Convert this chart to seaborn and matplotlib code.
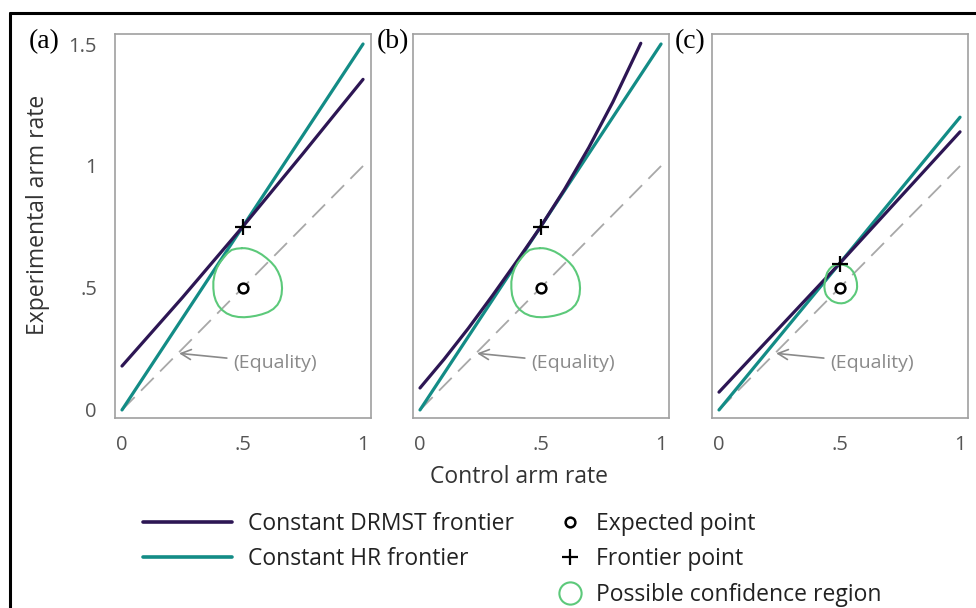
import matplotlib
matplotlib.use("Agg")
import matplotlib.pyplot as plt
import seaborn as sns
import pandas as pd
from matplotlib.lines import Line2D

# ---------------- data ----------------
panel_labels = ["(a)", "(b)", "(c)"]

drmst_x_a = [0.0, 0.25, 0.5, 0.75, 1.0]
drmst_y_a = [0.18, 0.46, 0.75, 1.05, 1.355]
drmst_x_b = [0.0, 0.1, 0.2, 0.3, 0.4, 0.5, 0.6, 0.7, 0.8, 0.916]
drmst_y_b = [0.09, 0.208, 0.334, 0.468, 0.607, 0.75, 0.905, 1.075, 1.262, 1.503]
drmst_x_c = [0.0, 0.5, 1.0]
drmst_y_c = [0.073, 0.6, 1.14]

hr_x = [0.0, 1.0]
hr_y_a = [0.0, 1.5]
hr_y_b = [0.0, 1.5]
hr_y_c = [0.0, 1.2]

eq_x = [0.0, 1.0]
eq_y = [0.0, 1.0]

expected_x = [0.5]
expected_y = [0.5]
frontier_x = [0.5, 0.5, 0.5]
frontier_y = [0.75, 0.75, 0.6]

cr_x_ab = [0.497, 0.475, 0.455, 0.437, 0.420, 0.405, 0.393, 0.384, 0.379, 0.379, 0.382,
           0.389, 0.400, 0.415, 0.434, 0.457, 0.483, 0.507, 0.531, 0.556,
           0.580, 0.606, 0.628, 0.645, 0.656, 0.662, 0.664, 0.662, 0.656, 0.647,
           0.635, 0.619, 0.600, 0.580, 0.559, 0.541, 0.524, 0.510, 0.497]
cr_y_ab = [0.663, 0.661, 0.656, 0.642, 0.622, 0.603, 0.581, 0.555, 0.526, 0.498, 0.471,
           0.448, 0.427, 0.410, 0.396, 0.386, 0.381, 0.380, 0.382, 0.386,
           0.392, 0.401, 0.414, 0.431, 0.451, 0.474, 0.499, 0.523, 0.546, 0.567,
           0.587, 0.605, 0.622, 0.637, 0.649, 0.656, 0.661, 0.663, 0.663]
cr_x_c = [0.501, 0.489, 0.478, 0.467, 0.458, 0.449, 0.443, 0.439, 0.437, 0.439, 0.443,
          0.449, 0.456, 0.467, 0.480, 0.494, 0.508, 0.522, 0.535, 0.547,
          0.556, 0.564, 0.569, 0.572, 0.573, 0.572, 0.568, 0.563, 0.556, 0.545,
          0.530, 0.516, 0.501]
cr_y_c = [0.597, 0.596, 0.592, 0.586, 0.577, 0.563, 0.545, 0.525, 0.505, 0.489, 0.475,
          0.465, 0.458, 0.448, 0.442, 0.438, 0.437, 0.439, 0.445, 0.453,
          0.464, 0.474, 0.485, 0.495, 0.505, 0.523, 0.540, 0.554, 0.567, 0.580,
          0.590, 0.595, 0.597]

x_ticks = [0, 0.5, 1]
x_ticklabels = ["0", ".5", "1"]
y_ticks = [0, 0.5, 1, 1.5]
y_ticklabels = ["0", ".5", "1", "1.5"]

legend_lines = ["Constant DRMST frontier", "Constant HR frontier"]
legend_marks = ["Expected point", "Frontier point", "Possible confidence region"]

# ---------------- style ----------------
PURPLE = "#2d1654"
TEAL = "#138c86"
GREEN = "#5cc97a"
GRAY = "#a8a8a8"
SPINE = "#a0a0a0"
TXT = "#555555"

sns.set_theme(style="white")
plt.rcParams["font.family"] = ["Open Sans", "DejaVu Sans"]

W, H = 976, 608
fig = plt.figure(figsize=(W / 100, H / 100), dpi=100)

drmst = [(drmst_x_a, drmst_y_a), (drmst_x_b, drmst_y_b), (drmst_x_c, drmst_y_c)]
hrs = [hr_y_a, hr_y_b, hr_y_c]
crs = [(cr_x_ab, cr_y_ab), (cr_x_ab, cr_y_ab), (cr_x_c, cr_y_c)]
lefts = [115, 413, 712]
label_x = [29, 377, 675]

for i in range(3):
    ax = fig.add_axes([lefts[i] / W, 1 - 418 / H, 256 / W, 384 / H])
    # equality
    sns.lineplot(x=eq_x, y=eq_y, ax=ax, color=GRAY, lw=1.3, estimator=None)
    ax.lines[-1].set_dashes((10, 5))
    # HR frontier
    sns.lineplot(x=hr_x, y=hrs[i], ax=ax, color=TEAL, lw=2.3, estimator=None)
    # DRMST frontier
    sns.lineplot(x=drmst[i][0], y=drmst[i][1], ax=ax, color=PURPLE, lw=2.3,
                 estimator=None, sort=False)
    # confidence region
    sns.lineplot(x=crs[i][0], y=crs[i][1], ax=ax, color=GREEN, lw=1.5,
                 estimator=None, sort=False)
    ax.lines[-1].set_solid_joinstyle("round")
    # points
    ax.plot(expected_x, expected_y, marker="o", ms=7, mfc="white", mec="black",
            mew=1.8, ls="none", zorder=5)
    ax.plot([frontier_x[i]], [frontier_y[i]], marker="+", ms=11, color="black",
            mew=1.6, ls="none", zorder=6)
    # annotation
    ax.annotate("(Equality)", xy=(0.237, 0.232), xytext=(0.46, 0.193),
                textcoords="data", va="center", ha="left", fontsize=14,
                color="#8a8a8a",
                arrowprops=dict(arrowstyle="->", color="#8a8a8a", lw=1.2,
                                shrinkA=2, shrinkB=0, mutation_scale=18))

    ax.set_xlim(-0.029, 1.033)
    ax.set_ylim(-0.033, 1.541)
    ax.set_xticks(x_ticks)
    ax.set_xticklabels(x_ticklabels)
    ax.set_yticks(y_ticks)
    if i == 0:
        ax.set_yticklabels(y_ticklabels)
    else:
        ax.set_yticklabels([])
    ax.tick_params(axis="both", length=0, labelsize=14.5, labelcolor=TXT)
    ax.tick_params(axis="x", pad=12)
    ax.tick_params(axis="y", pad=13)
    for s in ax.spines.values():
        s.set_color(SPINE)
        s.set_linewidth(1.2)
    ax.set_xlabel("")
    ax.set_ylabel("")
    fig.text(label_x[i] / W, 1 - 42 / H, panel_labels[i], va="center", ha="left",
             fontsize=20, family="Liberation Serif", color="black")

fig.text(519 / W, 1 - 477 / H, "Control arm rate", ha="center", va="center",
         fontsize=16.5, color="#333333")
fig.text(38 / W, 1 - 215 / H, "Experimental arm rate", ha="center", va="center",
         rotation=90, fontsize=16.5, color="#333333")

# legends
h_lines = [Line2D([], [], color=PURPLE, lw=2.6), Line2D([], [], color=TEAL, lw=2.6)]
leg1 = fig.legend(h_lines, legend_lines, loc="upper left",
                  bbox_to_anchor=(143 / W, 1 - 512 / H), frameon=False,
                  fontsize=16.5, handlelength=3.9, handletextpad=0.7,
                  borderpad=0, borderaxespad=0, labelspacing=0.5,
                  labelcolor="#222222")
h_marks = [Line2D([], [], marker="o", ms=7, mfc="white", mec="black", mew=1.8, ls="none"),
           Line2D([], [], marker="+", ms=11, color="black", mew=1.6, ls="none"),
           Line2D([], [], marker="o", ms=16, mfc="none", mec=GREEN, mew=1.5, ls="none")]
leg2 = fig.legend(h_marks, legend_marks, loc="upper left",
                  bbox_to_anchor=(559 / W, 1 - 512 / H), frameon=False,
                  fontsize=16.5, handlelength=1.0, handletextpad=0.62,
                  borderpad=0, borderaxespad=0, labelspacing=0.5,
                  labelcolor="#222222")

# outer frame lines (top and left)
fig.add_artist(Line2D([10 / W, 1], [1 - 13 / H, 1 - 13 / H], color="black", lw=2.2,
                      transform=fig.transFigure))
fig.add_artist(Line2D([10 / W, 10 / W], [0, 1 - 13 / H], color="black", lw=2.2,
                      transform=fig.transFigure))

fig.savefig("out.png", dpi=100, facecolor="white")
